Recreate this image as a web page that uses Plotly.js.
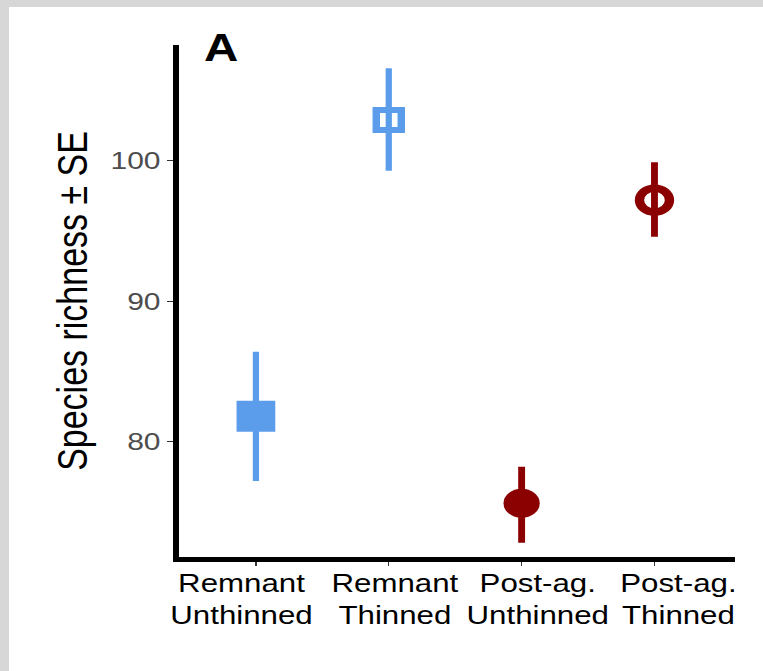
<!DOCTYPE html>
<html>
<head>
<meta charset="utf-8">
<script src="https://cdn.plot.ly/plotly-3.0.1.min.js"></script>
<style>
  html, body { margin: 0; padding: 0; width: 763px; height: 671px; overflow: hidden;
    background: #d7d7d7; }
  #wrap { position: absolute; left: 9px; top: 7px; width: 754px; height: 664px; background: #fff; overflow: hidden; }
  #plot { position: absolute; left: 0; top: 0; width: 603.2px; height: 664px;
    transform: scaleX(1.25); transform-origin: 0 0; }
</style>
</head>
<body>
<div id="wrap"><div id="plot"></div></div>
<script>
// Data
const categories = ["Remnant<br>Unthinned", "Remnant<br>Thinned", "Post-ag.<br>Unthinned", "Post-ag.<br>Thinned"];
const richness   = [81.8, 102.9, 75.6, 97.2];
const seUpper    = [4.6, 3.7, 2.6, 2.7];
const seLower    = [4.6, 3.6, 2.8, 2.6];
const yTickVals  = [80, 90, 100];
const panelLabel = "A";

// Styling
const blue = "#5c9deb";
const red  = "#8b0000";
const styles = [
  {color: blue, symbol: "square",       size: 31, lw: 0,   eb: 5},
  {color: blue, symbol: "square-open",  size: 20, lw: 6,   eb: 5},
  {color: red,  symbol: "circle",       size: 29, lw: 0,   eb: 5.5},
  {color: red,  symbol: "circle-open",  size: 24, lw: 7.5, eb: 5.5}
];
// horizontal nudges of the category labels (in category units), as in the reference
const labelNudge = [-0.11, 0.04, 0.12, 0.18];

const traces = categories.map((c, i) => ({
  type: "scatter",
  mode: "markers",
  x: [c],
  y: [richness[i]],
  error_y: {
    type: "data", symmetric: false,
    array: [seUpper[i]], arrayminus: [seLower[i]],
    color: styles[i].color, thickness: styles[i].eb, width: 0
  },
  marker: {
    symbol: styles[i].symbol, size: styles[i].size, color: styles[i].color,
    line: {color: styles[i].color, width: styles[i].lw}
  },
  hoverinfo: "x+y",
  showlegend: false
}));

const catLabels = categories.map((c, i) => ({
  text: c,
  xref: "x", yref: "paper",
  x: i + labelNudge[i], y: -0.083,
  xanchor: "center", yanchor: "middle", align: "center",
  showarrow: false,
  font: {size: 25, color: "#000"}
}));

const layout = {
  width: 603.2, height: 664,
  margin: {l: 136.1, r: 22.4, t: 38, b: 113.5},
  paper_bgcolor: "rgba(0,0,0,0)",
  plot_bgcolor: "#ffffff",
  font: {family: "Liberation Sans, Arial, sans-serif", color: "#000"},
  xaxis: {
    type: "category",
    categoryorder: "array", categoryarray: categories,
    range: [-0.579, 3.608],
    showline: true, linecolor: "#000", linewidth: 5,
    showgrid: false, zeroline: false,
    ticks: "outside", ticklen: 4, tickwidth: 1, tickcolor: "#333",
    showticklabels: false
  },
  yaxis: {
    range: [71.78, 108.25],
    tickvals: yTickVals,
    ticktext: yTickVals.map(String),
    showline: true, linecolor: "#000", linewidth: 5,
    showgrid: false, zeroline: false,
    ticks: "outside", ticklen: 5, tickwidth: 1, tickcolor: "#333",
    tickfont: {size: 24, color: "#4d4d4d"},
    title: {text: "Species richness ± SE", font: {size: 34, color: "#000"}, standoff: 9}
  },
  annotations: [{
    text: "<b>" + panelLabel + "</b>",
    xref: "paper", yref: "paper", x: 0.0753, y: 0.995,
    xanchor: "center", yanchor: "middle", showarrow: false,
    font: {size: 38, color: "#000"}
  }].concat(catLabels)
};

Plotly.newPlot("plot", traces, layout, {displayModeBar: false, staticPlot: true});
</script>
</body>
</html>
